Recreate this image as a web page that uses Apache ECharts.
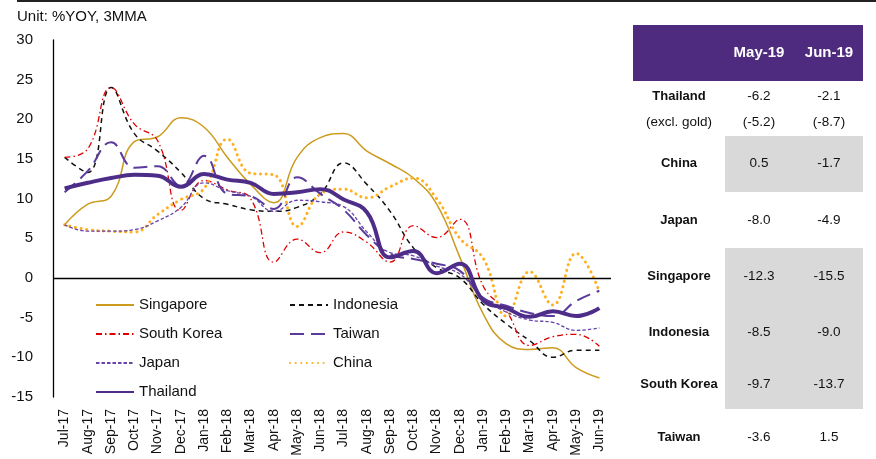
<!DOCTYPE html>
<html>
<head>
<meta charset="utf-8">
<script src="https://cdn.jsdelivr.net/npm/echarts@6/dist/echarts.min.js"></script>
<style>
html,body{margin:0;padding:0;background:#fff;}
#chart{width:876px;height:459px;}
</style>
</head>
<body>
<div id="chart"></div>
<script>
var months = ['Jul-17','Aug-17','Sep-17','Oct-17','Nov-17','Dec-17','Jan-18','Feb-18','Mar-18','Apr-18','May-18','Jun-18','Jul-18','Aug-18','Sep-18','Oct-18','Nov-18','Dec-18','Jan-19','Feb-19','Mar-19','Apr-19','May-19','Jun-19'];
var singapore = [6.7, 9.3, 10.3, 17.2, 17.8, 20.2, 19.0, 15.2, 11.8, 9.5, 15.2, 17.7, 18.2, 16.0, 14.4, 12.6, 9.3, 2.6, -4.5, -8.3, -9.0, -8.8, -11.3, -12.6];
var indonesia = [15.2, 13.3, 24.0, 18.2, 16.0, 13.3, 10.0, 9.3, 8.6, 8.4, 8.9, 10.6, 14.5, 11.8, 8.4, 3.8, 1.3, 0.0, -3.3, -5.8, -7.9, -10.0, -9.1, -9.1];
var southKorea = [15.2, 16.3, 24.0, 19.4, 17.3, 8.5, 12.3, 11.1, 10.0, 2.0, 4.9, 3.2, 5.8, 4.5, 2.0, 6.6, 5.1, 7.4, -1.0, -4.2, -8.5, -7.4, -7.1, -8.6];
var taiwan = [10.8, 13.5, 17.1, 13.9, 14.1, 11.6, 15.4, 10.6, 10.3, 8.7, 12.7, 10.6, 8.6, 5.4, 3.0, 2.4, 1.8, 0.9, -2.5, -3.5, -4.4, -4.8, -2.9, -1.6];
var japan = [6.7, 5.9, 5.9, 6.1, 7.2, 8.9, 12.0, 11.0, 10.3, 8.4, 9.8, 9.6, 9.0, 5.8, 3.2, 2.8, 1.5, 0.5, -2.5, -4.3, -5.3, -5.6, -6.6, -6.3];
var china = [6.7, 6.1, 5.9, 5.8, 8.0, 9.9, 11.3, 17.5, 13.2, 13.0, 6.5, 10.6, 11.2, 10.1, 11.5, 12.6, 10.0, 5.0, 2.5, -4.8, 0.8, -3.4, 3.1, -1.7];
var thailand = [11.3, 12.0, 12.6, 13.0, 12.9, 11.5, 13.1, 12.4, 12.0, 10.6, 10.8, 11.2, 9.9, 8.3, 2.6, 3.4, 0.6, 1.8, -2.8, -3.8, -4.9, -4.2, -4.8, -3.8];
var yTicks = {min: -15, max: 30, interval: 5};

var tableHeader = ['May-19', 'Jun-19'];
var tableNames = ['Thailand', '(excl. gold)', 'China', 'Japan', 'Singapore', 'Indonesia', 'South Korea', 'Taiwan'];
var tableMay = ['-6.2', '(-5.2)', '0.5', '-8.0', '-12.3', '-8.5', '-9.7', '-3.6'];
var tableJun = ['-2.1', '(-8.7)', '-1.7', '-4.9', '-15.5', '-9.0', '-13.7', '1.5'];

var FONT = 'Liberation Sans, Arial, sans-serif';
var chart = echarts.init(document.getElementById('chart'), null, {renderer: 'canvas'});

function mk(name, data, color, width, type, z, cap) {
  return {
    name: name, type: 'line', data: data, smooth: 0.45, symbol: 'none', symbolSize: 0, z: z,
    lineStyle: {color: color, width: width, type: type, cap: cap || 'butt'},
    itemStyle: {color: color},
    emphasis: {disabled: true}
  };
}

var series = [
  mk('Singapore', singapore, '#cc9a1c', 1.5, 'solid', 2),
  mk('Indonesia', indonesia, '#111111', 1.5, [5, 4], 3),
  mk('South Korea', southKorea, '#dd0000', 1.3, [6, 3, 1.5, 3], 3),
  mk('Taiwan', taiwan, '#5a3a9a', 2, [14, 7], 4),
  mk('Japan', japan, '#6644aa', 1.3, [3.5, 2], 4),
  mk('China', china, '#ffb020', 3, [0.1, 5.5], 3, 'round'),
  mk('Thailand', thailand, '#4e2d89', 4, 'solid', 6)
];
series[0].markLine = {
  silent: true, symbol: 'none', label: {show: false},
  lineStyle: {color: '#000', width: 1.3, type: 'solid'},
  data: [{yAxis: 0}], animation: false
};

var graphics = [
  {type: 'rect', shape: {x: 17, y: 0, width: 859, height: 2}, style: {fill: '#222'}},
  {type: 'text', style: {text: 'Unit: %YOY, 3MMA', x: 17, y: 17, verticalAlign: 'middle', font: '15px ' + FONT, fill: '#111'}},
  {type: 'rect', shape: {x: 633, y: 25, width: 230, height: 56}, style: {fill: '#4f2b80'}},
  {type: 'rect', shape: {x: 725, y: 136, width: 138, height: 56}, style: {fill: '#d9d9d9'}},
  {type: 'rect', shape: {x: 725, y: 248, width: 138, height: 161}, style: {fill: '#d9d9d9'}}
];
var colX = [759, 829];
tableHeader.forEach(function (h, i) {
  graphics.push({type: 'text', style: {text: h, x: colX[i], y: 53, align: 'center', verticalAlign: 'middle', font: 'bold 15px ' + FONT, fill: '#fff'}});
});
var rowY = [96, 122, 163, 220, 276, 332, 384, 437];
tableNames.forEach(function (n, i) {
  var bold = n.charAt(0) !== '(';
  graphics.push({type: 'text', style: {text: n, x: 679, y: rowY[i], align: 'center', verticalAlign: 'middle', font: (bold ? 'bold 13px ' : '13.5px ') + FONT, fill: '#111'}});
  graphics.push({type: 'text', style: {text: tableMay[i], x: colX[0], y: rowY[i], align: 'center', verticalAlign: 'middle', font: '13.5px ' + FONT, fill: '#111'}});
  graphics.push({type: 'text', style: {text: tableJun[i], x: colX[1], y: rowY[i], align: 'center', verticalAlign: 'middle', font: '13.5px ' + FONT, fill: '#111'}});
});

var legendCommon = {
  orient: 'vertical', itemWidth: 38, itemHeight: 14, itemGap: 13, padding: 0,
  itemStyle: {opacity: 0, borderWidth: 0},
  textStyle: {fontFamily: FONT, fontSize: 15, color: '#111', lineHeight: 16},
  selectedMode: false, top: 297
};

chart.setOption({
  animation: false,
  textStyle: {fontFamily: FONT},
  grid: {left: 53, right: 265, top: 40, bottom: 62, containLabel: false},
  legend: [
    Object.assign({left: 95, data: ['Singapore', 'South Korea', 'Japan', 'Thailand']}, legendCommon),
    Object.assign({left: 289, data: ['Indonesia', 'Taiwan', 'China']}, legendCommon)
  ],
  xAxis: {
    type: 'category', data: months, boundaryGap: true,
    axisLine: {show: false}, axisTick: {show: false},
    axisLabel: {rotate: 90, fontSize: 14, fontFamily: FONT, color: '#111', margin: 12, interval: 0}
  },
  yAxis: {
    type: 'value', min: yTicks.min, max: yTicks.max, interval: yTicks.interval,
    splitLine: {show: false},
    axisLine: {show: true, lineStyle: {color: '#000', width: 1.3}},
    axisTick: {show: false},
    axisLabel: {fontSize: 15, fontFamily: FONT, color: '#111', margin: 20}
  },
  series: series,
  graphic: graphics
});
</script>
</body>
</html>
